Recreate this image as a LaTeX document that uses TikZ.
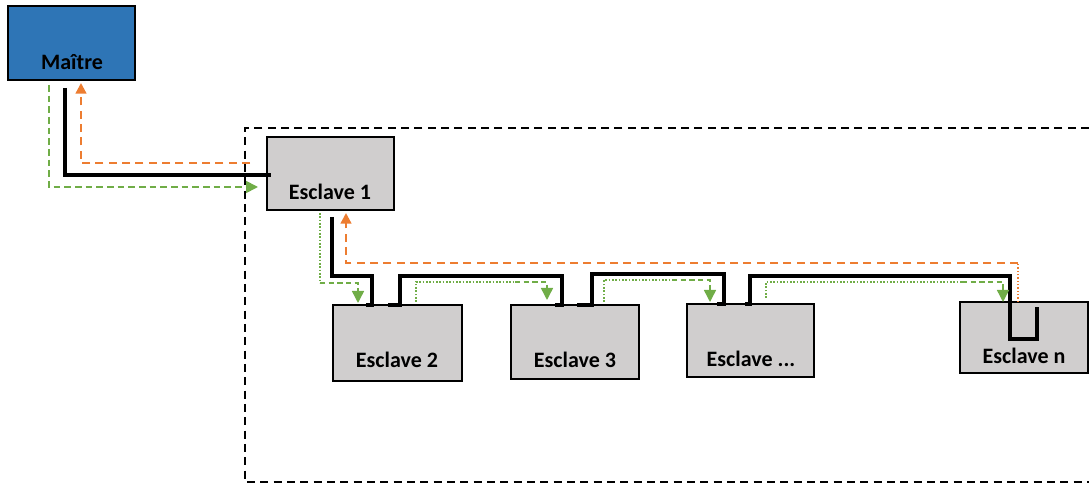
\documentclass[tikz,border=0pt]{standalone}
\usepackage{fontspec}
\setmainfont{Carlito}
\usetikzlibrary{calc,arrows.meta}
\definecolor{mblue}{HTML}{2E75B6}
\definecolor{sgray}{HTML}{D0CECE}
\definecolor{morange}{HTML}{ED7D31}
\definecolor{mgreen}{HTML}{70AD47}
\tikzset{
  box/.style={draw=black,line width=1.8pt,outer sep=0pt,inner sep=0pt},
  lbl/.style={anchor=base,inner sep=0pt,font=\fontsize{16.5}{18}\selectfont\bfseries},
  blk/.style={draw=black,line width=2.8pt,line join=miter},
  org/.style={draw=morange,line width=1.7pt,dash pattern=on 6pt off 4pt,-{Triangle[length=8pt,width=8pt]}},
  orgdot/.style={draw=morange,line width=0.9pt,dash pattern=on 1pt off 1.5pt},
  grnm/.style={draw=mgreen,line width=1.3pt,dash pattern=on 5pt off 3pt,-{Triangle[length=9pt,width=9pt]}},
  grn/.style={draw=mgreen,line width=1.1pt,dash pattern=on 4pt off 2.5pt,-{Triangle[length=9pt,width=9pt]}},
  grndot/.style={draw=mgreen,line width=0.8pt,dash pattern=on 1.2pt off 1.3pt},
  frame/.style={draw=black,line width=1.3pt,dash pattern=on 6pt off 4pt}
}
\begin{document}
\begin{tikzpicture}[x=0.75pt,y=-0.75pt]
\useasboundingbox (0,0) rectangle (1089,484);
% dashed frame
\draw[frame] (1089,128) -- (245,128) -- (245,482) -- (1089,482);
% boxes
\node[box,fill=mblue,minimum width=127*0.75pt,minimum height=74*0.75pt] (m) at (71.5,43) {};
\node[box,fill=sgray,minimum width=127*0.75pt,minimum height=73*0.75pt] (e1) at (330.5,173.5) {};
\node[box,fill=sgray,minimum width=129*0.75pt,minimum height=76*0.75pt] (e2) at (397.5,343) {};
\node[box,fill=sgray,minimum width=128*0.75pt,minimum height=74*0.75pt] (e3) at (575,342) {};
\node[box,fill=sgray,minimum width=127*0.75pt,minimum height=73*0.75pt] (e4) at (750.5,340.5) {};
\node[box,fill=sgray,minimum width=128*0.75pt,minimum height=71*0.75pt] (en) at (1024,337.5) {};
% labels
\node[lbl] (tm) at (72,70) {Maître};
\node[lbl] (t1) at (330,200) {Esclave 1};
\node[lbl] (t2) at (397,368) {Esclave 2};
\node[lbl] (t3) at (575,368) {Esclave 3};
\node[lbl] (t4) at (751,367) {Esclave ...};
\node[lbl] (tn) at (1024,364) {Esclave n};
% break points of the forward / return signal lines
\coordinate (g1) at ($(e1.south west)+(53,73)$);
\coordinate (g2) at ($(e3.north west)+(4,-23)$);
\coordinate (g3) at ($(e4.north west)+(-15,-24)$);
\coordinate (g4) at ($(en.north west)+(2,-20)$);
\coordinate (o1) at ($(en.north west)+(58,-39)$);
% master <-> esclave 1
\draw[blk] ($(m.south west)+(57,8)$) |- ($(e1.west)+(4,1.5)$);
\draw[org] ($(e1.west)+(-17,-10.5)$) -| ($(m.south west)+(73,3)$);
\draw[grnm] ($(m.south west)+(41,5)$) |- ($(e1.west)+(-9,13.5)$);
% black bus
\draw[blk] ($(e1.south west)+(65,7)$) -- ++(0,59) -| ($(e2.north west)+(39,0)$) -- ++(-6,0);
\draw[blk] ($(e2.north west)+(55,0)$) -- ++(12,0) -- ++(0,-29) -| ($(e3.north west)+(51,0)$) -- ++(-7,0);
\draw[blk] ($(e3.north west)+(66,0)$) -- ++(15,0) -- ++(0,-31) -| ($(e4.north west)+(37,0)$) -- ++(-7,0);
\draw[blk] ($(e4.north west)+(63,0)$) -- ++(-5,0) -- ++(5,0) -- ++(0,-28) -| ($(en.north west)+(50,37)$) -- ++(27,0) -- ++(0,-32);
% green forward
\draw[grndot] ($(e1.south west)+(53,3)$) -- (g1);
\draw[grn] (g1) -| ($(e2.north west)+(25,-2)$);
\draw[grndot] ($(e2.north west)+(83,-3)$) |- (g2);
\draw[grn] (g2) -| ($(e3.north west)+(36,-5)$);
\draw[grndot] ($(e3.north west)+(93,-3)$) |- (g3);
\draw[grn] (g3) -| ($(e4.north west)+(23,-2)$);
\draw[grndot] ($(e4.north west)+(79,-6)$) |- (g4);
\draw[grn] (g4) -| ($(en.north west)+(43,0)$);
% orange return
\draw[orgdot] ($(en.north west)+(58,0)$) -- (o1);
\draw[org] (o1) -| ($(e1.south west)+(79,3)$);
\end{tikzpicture}
\end{document}
